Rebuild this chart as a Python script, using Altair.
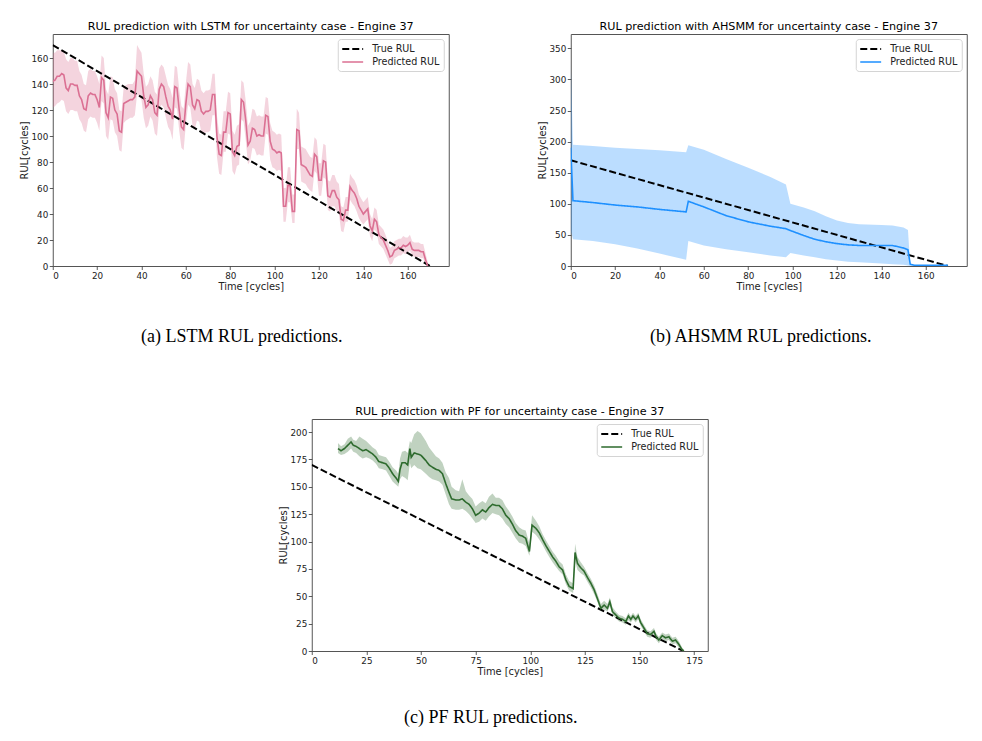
import altair as alt
import pandas as pd

SERIES = ["True RUL", "Predicted RUL"]

# True RUL (same for all engines' panels)
TRUE_T = [0, 170]
TRUE_V = [170, 0]

# ---------------- LSTM ----------------
LSTM_T = list(range(0, 170))
LSTM_PRED = [142,143,146,146,148,147,137,135,140,140,
             139,139,131,128,121,120,131,133,132,132,
             128,122,145,143,118,114,130,129,120,117,
             104,103,125,126,127,128,128,130,150,148,
             146,131,122,124,131,128,118,116,136,140,
             138,130,123,120,113,138,137,120,107,105,
             125,140,138,124,121,128,127,119,117,119,
             119,120,132,132,100,86,85,103,103,118,
             117,88,85,92,93,128,126,112,93,96,
             106,105,100,101,100,100,116,115,96,90,
             89,87,88,87,46,46,62,62,42,42,
             105,104,78,77,76,73,70,69,86,84,
             66,66,81,80,54,53,58,58,53,51,
             36,35,43,43,61,58,56,52,46,43,
             40,42,44,31,27,36,34,24,22,20,
             16,12,7,8,12,13,14,14,16,15,
             16,18,13,12,12,12,11,11,5,0]
LSTM_HI = [164,164,166,166,166,165,159,157,160,160,
           158,158,150,147,140,139,150,152,150,150,
           146,140,162,160,136,132,146,145,136,133,
           120,119,138,139,140,140,140,143,170,167,
           164,148,138,140,146,143,134,132,152,155,
           153,146,139,136,129,154,153,136,123,121,
           141,157,155,140,137,144,143,135,133,135,
           135,136,148,148,116,102,101,119,119,134,
           133,104,101,108,109,143,141,127,108,111,
           121,120,115,116,115,115,130,129,110,104,
           103,101,102,101,60,60,76,76,55,55,
           121,118,92,91,90,87,84,83,99,97,
           79,79,94,93,66,65,70,70,65,63,
           46,45,53,53,71,68,66,62,55,52,
           49,51,53,40,36,45,43,32,30,28,
           24,19,14,15,19,20,21,21,23,22,
           22,24,19,18,18,18,17,17,10,3]
LSTM_LO = [122,123,125,126,128,127,119,117,120,120,
           119,119,113,110,104,103,113,115,114,114,
           110,104,127,125,100,97,113,112,103,100,
           89,88,110,112,113,114,114,116,132,130,
           128,114,106,108,115,112,102,100,120,124,
           122,114,107,104,97,122,121,104,91,89,
           109,124,122,108,105,112,111,103,101,103,
           103,104,116,116,84,71,70,88,88,102,
           101,73,70,77,78,113,111,97,78,81,
           91,90,85,86,85,85,102,101,82,76,
           75,73,74,73,34,34,49,49,33,33,
           90,90,65,64,63,60,58,57,73,71,
           54,54,68,67,43,42,46,46,42,40,
           27,26,34,34,51,48,46,42,37,34,
           32,34,36,23,19,28,26,17,15,13,
           9,5,1,2,6,7,8,8,10,9,
           10,12,8,7,7,7,6,6,1,0]

# ---------------- AHSMM ----------------
AH_T =    [0, 1, 10, 20, 30, 40, 52, 53, 60, 70, 80, 90, 97, 99, 105, 110, 115, 120, 125, 130, 140, 145, 150, 152, 153, 155, 160, 165, 170]
AH_PRED = [190, 105, 102, 98, 95, 91, 87, 104, 95, 81, 71, 64, 60, 57, 49, 43, 39, 36, 34, 33, 33, 33, 29, 26, 3, 1, 1, 1, 1]
AH_HI =   [330, 195, 193, 190, 188, 186, 183, 194, 187, 172, 158, 143, 131, 100, 94, 88, 80, 73, 69, 67, 66, 65, 62, 58, 3, 1, 1, 1, 1]
AH_LO =   [57, 43, 40, 35, 28, 20, 10, 40, 33, 27, 22, 17, 14, 21, 17, 14, 11, 9, 7, 6, 4, 3, 2, 1, 0, 0, 0, 0, 0]

# ---------------- PF ----------------
PF_T = [12,13.4,15,16.5,18,19,20.3,21.8,23.3,24.9,26.4,27.9,29.4,30.7,32.5,34,35.5,37,38.6,39.6,
        40.4,41.3,42.8,43.9,44.9,45.5,46.9,48.4,49.9,52.2,53.7,55.2,56.8,58.3,59.8,61.3,62.8,64,65.9,67.4,
        68.9,70.5,72,73.5,75,76.6,78.1,79.6,81.1,82.7,84.2,85.7,87.2,88.8,90.3,91.8,93.3,94.9,96.4,97.9,
        99.6,100.8,102.6,104.1,105.6,107.2,108.7,110.2,111.7,113.2,114.8,116.3,117.8,119.6,120.5,121.6,123.1,124.6,126.2,127.7,
        129.2,130.7,132.3,133.8,135.3,136.4,137.6,139.1,140.6,142.2,143.7,144.9,146,147,148.2,149.4,150.5,152,153.5,155,
        156.6,157.6,158.8,160.4,161.9,163.4,165,166.5,168,169.5,170.3]
PF_PRED = [185,183,185,188,191,188,187,185,183,184,182,180,177,173,172,171,167,162,158,155,
           166,172,172,170,185,177,181,180,179,174,170,168,166,165,162,153,145,139,138,138,
           139,136,134,130,124,126,129,127,131,134,133,133,130,124,121,116,110,106,105,103,
           91,115,112,108,102,96,91,86,82,77,74,65,59,57,90,80,76,73,67,62,
           56,48,39,42,39,45,36,33,30,29,27,32,29,32,29,32,26,21,16,15,
           18,13,10,14,12,13,9,10,6,1,0]
PF_HI = [190,187,189,194,196,193,192,196,194,192,189,186,184,179,178,177,173,168,165,162,
         176,182,183,181,192,190,198,201,199,192,186,182,178,176,172,163,158,150,147,146,
         157,146,142,139,132,135,137,135,141,144,140,140,138,132,128,123,117,113,111,110,
         98,124,119,114,107,101,96,91,87,82,79,70,64,62,98,86,81,77,71,66,
         60,52,43,46,43,49,40,36,33,32,30,35,32,35,32,35,29,24,19,18,
         21,16,13,17,15,16,12,13,9,3,1]
PF_LO = [181,179,180,182,185,182,181,178,176,177,176,174,171,167,166,165,160,155,152,150,
         157,160,158,156,172,167,170,167,166,162,159,157,156,155,152,143,134,130,129,129,
         130,128,125,121,117,118,121,119,123,126,125,124,121,116,113,108,103,99,98,96,
         87,109,106,102,97,91,86,81,77,73,70,61,55,53,82,74,71,69,63,58,
         52,45,36,38,36,41,33,30,27,26,24,28,26,29,26,29,23,18,13,12,
         15,10,7,11,9,10,6,7,3,0,0]

CAPTIONS = ["(a) LSTM RUL predictions.", "(b) AHSMM RUL predictions.", "(c) PF RUL predictions."]
TITLES = ["RUL prediction with LSTM for uncertainty case - Engine 37",
          "RUL prediction with AHSMM for uncertainty case - Engine 37",
          "RUL prediction with PF for uncertainty case - Engine 37"]

FONT = "DejaVu Sans"
W, H = 396, 232


def axis(values, title):
    return alt.Axis(values=values, tickCount=30, title=title, grid=False, domain=False,
                    labelOverlap=False,
                    tickColor="#333", tickSize=3.5, tickWidth=0.8,
                    labelFont=FONT, labelFontSize=8.8, labelColor="#222", labelPadding=1.5,
                    titleFont=FONT, titleFontSize=9.9, titleFontWeight="normal",
                    titleColor="#222", titlePadding=1.5)


def panel(title, caption, cap_x, cap_y, t, pred, lo, hi, color,
          xdom, xticks, ydom, yticks):
    band_df = pd.DataFrame({"t": t, "lo": lo, "hi": hi})
    line_df = pd.concat([
        pd.DataFrame({"t": TRUE_T, "v": TRUE_V, "series": SERIES[0]}),
        pd.DataFrame({"t": t, "v": pred, "series": SERIES[1]}),
    ])
    xs = alt.Scale(domain=xdom, nice=False, zero=False)
    ys = alt.Scale(domain=ydom, nice=False)
    band = alt.Chart(band_df).mark_area(color=color, opacity=0.3, clip=True).encode(
        x=alt.X("t:Q", scale=xs, axis=axis(xticks, "Time [cycles]")),
        y=alt.Y("lo:Q", scale=ys, axis=axis(yticks, "RUL[cycles]")),
        y2="hi:Q",
    )
    leg = alt.Legend(title=None, orient="top-right", offset=5, symbolType="M-1,0H2.8",
                     symbolSize=121, symbolStrokeWidth=1.8, labelFont=FONT, labelFontSize=9.6,
                     labelColor="#222", labelOffset=18, padding=3.5, rowPadding=1,
                     fillColor="white", strokeColor="#d4d4d4", cornerRadius=3)
    lines = alt.Chart(line_df).mark_line(clip=True).encode(
        x=alt.X("t:Q", scale=xs),
        y=alt.Y("v:Q", scale=ys),
        color=alt.Color("series:N", scale=alt.Scale(domain=SERIES, range=["black", color]), legend=leg),
        strokeDash=alt.StrokeDash("series:N", scale=alt.Scale(domain=SERIES, range=[[7, 3], [1, 0]]), legend=leg),
        strokeWidth=alt.StrokeWidth("series:N", scale=alt.Scale(domain=SERIES, range=[2, 1.6]), legend=None),
    )
    cap = alt.Chart(pd.DataFrame({"c": [caption]})).mark_text(
        font="Liberation Serif", fontSize=18, align="center", baseline="alphabetic", color="black"
    ).encode(text="c:N", x=alt.value(cap_x), y=alt.value(cap_y))
    return alt.layer(band, lines, cap).properties(
        width=W, height=H,
        title=alt.TitleParams(title, font=FONT, fontSize=11.2, fontWeight="normal",
                              color="black", offset=1.5, frame="group"),
    )


pa = panel(TITLES[0], CAPTIONS[0], 189, 308, LSTM_T, LSTM_PRED, LSTM_LO, LSTM_HI, "#DB7093",
           [0, 178.5], [0, 20, 40, 60, 80, 100, 120, 140, 160], [0, 178.5],
           [0, 20, 40, 60, 80, 100, 120, 140, 160])
pb = panel(TITLES[1], CAPTIONS[1], 190, 308, AH_T, AH_PRED, AH_LO, AH_HI, "#1E90FF",
           [0, 178.5], [0, 20, 40, 60, 80, 100, 120, 140, 160], [0, 373],
           [0, 50, 100, 150, 200, 250, 300, 350])
pc = panel(TITLES[2], CAPTIONS[2], 179, 304, PF_T, PF_PRED, PF_LO, PF_HI, "#2E6B2E",
           [0, 181.2], [0, 25, 50, 75, 100, 125, 150, 175], [0, 212],
           [0, 25, 50, 75, 100, 125, 150, 175, 200])

RES = dict(color="independent", strokeDash="independent", strokeWidth="independent")
top = alt.hconcat(pa, pb, spacing=87).resolve_scale(**RES)
chart = alt.vconcat(top, pc, spacing=58, center=True).resolve_scale(**RES).properties(
    padding={"left": 10.5, "top": 12, "right": 0, "bottom": 0},
    background="white",
).configure_view(
    stroke="#555", strokeWidth=1
)

chart.save("out.html", embed_options={"renderer": "svg", "actions": False})
